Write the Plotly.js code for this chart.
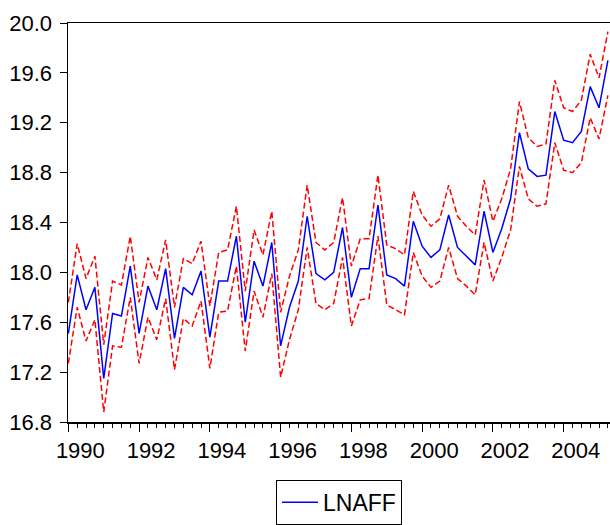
<!DOCTYPE html>
<html>
<head>
<meta charset="utf-8">
<script src="https://cdn.plot.ly/plotly-3.0.1.min.js"></script>
<style>html,body{margin:0;padding:0;background:#fff;}#chart{width:610px;height:525px;}</style>
</head>
<body>
<div id="chart"></div>
<script>
// Quarterly observations, 1990Q1 .. 2005Q2
const startYear = 1990;
const nObs = 62;
const quarters = [];
for (let i = 0; i < nObs; i++) quarters.push(startYear + i / 4);

const lnaff = [
  17.51, 17.98, 17.70, 17.88, 17.15, 17.67, 17.65, 18.05,
  17.51, 17.89, 17.70, 18.03, 17.47, 17.88, 17.82, 18.01,
  17.48, 17.93, 17.93, 18.29, 17.60, 18.09, 17.89, 18.24,
  17.41, 17.72, 17.93, 18.45, 17.99, 17.94, 18.00, 18.36,
  17.80, 18.03, 18.03, 18.54, 17.98, 17.95, 17.89, 18.41,
  18.21, 18.12, 18.18, 18.46, 18.20, 18.13, 18.06, 18.49,
  18.16, 18.35, 18.59, 19.12, 18.83, 18.77, 18.78, 19.29,
  19.06, 19.04, 19.13, 19.49, 19.32, 19.70
];
const upperBand = [
  17.76, 18.23, 17.95, 18.13, 17.42, 17.93, 17.90, 18.29,
  17.76, 18.12, 17.94, 18.26, 17.72, 18.11, 18.07, 18.25,
  17.73, 18.16, 18.18, 18.53, 17.85, 18.34, 18.14, 18.49,
  17.68, 17.97, 18.18, 18.70, 18.24, 18.18, 18.24, 18.60,
  18.05, 18.27, 18.27, 18.78, 18.22, 18.19, 18.14, 18.65,
  18.46, 18.37, 18.43, 18.70, 18.45, 18.37, 18.30, 18.74,
  18.41, 18.59, 18.83, 19.37, 19.08, 19.01, 19.03, 19.54,
  19.32, 19.29, 19.38, 19.75, 19.56, 19.93
];
const lowerBand = [
  17.27, 17.72, 17.45, 17.62, 16.88, 17.41, 17.40, 17.80,
  17.27, 17.64, 17.46, 17.79, 17.22, 17.63, 17.57, 17.77,
  17.23, 17.68, 17.69, 18.05, 17.37, 17.85, 17.64, 17.99,
  17.16, 17.46, 17.70, 18.20, 17.75, 17.70, 17.75, 18.12,
  17.57, 17.78, 17.79, 18.29, 17.74, 17.70, 17.66, 18.16,
  17.97, 17.88, 17.93, 18.20, 17.95, 17.89, 17.82, 18.24,
  17.93, 18.12, 18.34, 18.85, 18.59, 18.53, 18.55, 19.04,
  18.82, 18.80, 18.88, 19.24, 19.07, 19.42
];

const xTickVals = [1990, 1992, 1994, 1996, 1998, 2000, 2002, 2004];
const xTickText = ["1990", "1992", "1994", "1996", "1998", "2000", "2002", "2004"];
const yTickVals = [16.8, 17.2, 17.6, 18.0, 18.4, 18.8, 19.2, 19.6, 20.0];
const yTickText = ["16.8", "17.2", "17.6", "18.0", "18.4", "18.8", "19.2", "19.6", "20.0"];

const FONT = "Liberation Sans, Arial, sans-serif";

const traces = [
  {x: quarters, y: upperBand, type: "scatter", mode: "lines", showlegend: false,
   line: {color: "rgb(255,0,0)", width: 1.5, dash: "6px,3px"}, hoverinfo: "skip"},
  {x: quarters, y: lowerBand, type: "scatter", mode: "lines", showlegend: false,
   line: {color: "rgb(255,0,0)", width: 1.5, dash: "6px,3px"}, hoverinfo: "skip"},
  {x: quarters, y: lnaff, type: "scatter", mode: "lines", name: "LNAFF",
   line: {color: "rgb(0,0,255)", width: 1.5}}
];

const layout = {
  width: 610, height: 525,
  margin: {l: 68, r: 0, t: 23, b: 97},
  paper_bgcolor: "#fff", plot_bgcolor: "#fff",
  font: {family: FONT, size: 22, color: "#000"},
  showlegend: true,
  legend: {
    x: 0.5, xanchor: "center", y: -0.145, yanchor: "top",
    bordercolor: "#000", borderwidth: 1, bgcolor: "#fff",
    itemwidth: 36,
    font: {family: FONT, size: 23, color: "#000"}
  },
  xaxis: {
    range: [1989.99, 2005.31],
    tickmode: "array", tickvals: xTickVals, ticktext: xTickText,
    ticks: "outside", ticklen: 8, tickwidth: 1, tickcolor: "#000",
    ticklabelshift: 12,
    minor: {dtick: 0.25, tick0: 1990, ticks: "outside", ticklen: 4, tickcolor: "#000", tickwidth: 1, showgrid: false},
    showgrid: false, zeroline: false,
    showline: true, linecolor: "#000", linewidth: 1.5, mirror: true,
    tickfont: {family: FONT, size: 22, color: "#000"}
  },
  yaxis: {
    range: [16.8, 20.0],
    tickmode: "array", tickvals: yTickVals, ticktext: yTickText,
    ticks: "outside", ticklen: 7, tickwidth: 1, tickcolor: "#000",
    ticklabelstandoff: 3,
    showgrid: false, zeroline: false,
    showline: true, linecolor: "#000", linewidth: 1.5, mirror: false,
    tickfont: {family: FONT, size: 22, color: "#000"}
  }
};

Plotly.newPlot("chart", traces, layout, {staticPlot: true, displayModeBar: false});
</script>
</body>
</html>
